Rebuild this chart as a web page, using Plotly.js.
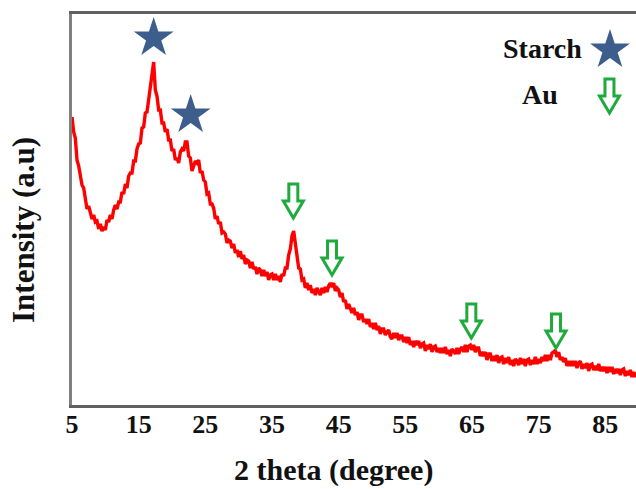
<!DOCTYPE html>
<html>
<head>
<meta charset="utf-8">
<script src="https://cdn.plot.ly/plotly-3.0.1.min.js"></script>
<style>
  html, body { margin: 0; padding: 0; background: #fff; }
  #chart { width: 636px; height: 489px; }
</style>
</head>
<body>
<div id="chart"></div>
<script>
// XRD scan of the starch-capped Au sample: 2θ from 5° in 0.25° steps
const scanStartDeg = 5;
const scanStepDeg = 0.25;

// Measured intensity (a.u.), one row per 5° of 2θ
const intensity = [
  // 5.00 - 9.75
  288,273,267,245,239,227,220,217,205,196,199,192,186,190,183,184,176,181,174,178,
  // 10.00 - 14.75
  175,185,183,190,186,195,200,196,203,203,213,211,221,217,229,232,232,244,244,256,
  // 15.00 - 19.75
  261,262,277,278,292,293,307,321,336,343,315,309,295,295,282,282,273,276,265,265,
  // 20.00 - 24.75
  254,256,245,247,242,253,256,254,263,263,249,247,234,238,244,242,245,232,234,225,
  // 25.00 - 29.75
  223,211,212,201,201,197,186,189,181,183,172,173,171,162,165,164,157,161,152,155,
  // 30.00 - 34.75
  148,154,146,150,141,145,144,137,143,136,138,131,137,135,129,135,129,133,125,130,
  // 35.00 - 39.75
  131,125,131,125,129,123,131,129,137,137,150,156,169,174,160,153,137,136,125,126,
  // 40.00 - 44.75
  117,122,115,120,112,116,110,117,114,110,117,112,118,113,119,122,118,122,114,117,
  // 45.00 - 49.75
  115,108,112,103,105,96,101,97,92,97,90,93,85,90,90,83,86,81,86,78,
  // 50.00 - 54.75
  82,76,82,75,79,71,76,76,70,73,75,68,66,72,67,72,65,69,69,63,
  // 55.00 - 59.75
  68,62,68,60,64,58,64,60,64,57,61,62,54,60,56,61,53,58,59,53,
  // 60.00 - 64.75
  57,52,57,52,58,51,55,49,56,54,51,57,51,56,58,53,60,53,59,60,
  // 65.00 - 69.75
  55,60,53,57,57,49,53,49,53,45,51,51,44,49,44,50,42,47,48,41,
  // 70.00 - 74.75
  47,42,48,40,45,39,46,44,40,47,41,46,39,45,46,40,45,41,48,41,
  // 75.00 - 79.75
  46,42,48,44,50,44,50,45,52,53,55,48,53,45,48,43,47,39,44,39,
  // 80.00 - 84.75
  44,39,44,37,42,44,36,41,37,42,34,40,41,35,39,35,41,34,38,34,
  // 85.00 - 89.75
  38,32,38,33,38,31,36,32,36,30,35,36,29,34,30,35,28,33,28,32
];
const twoTheta = intensity.map((_, i) => scanStartDeg + i * scanStepDeg);

// Axis ticks
const tickDeg = [5, 15, 25, 35, 45, 55, 65, 75, 85];
const tickText = ['5', '15', '25', '35', '45', '55', '65', '75', '85'];

// Starch reflections (star markers placed above each peak)
const starchPeakDeg = [17.25, 22.8];
const starchMarkY = [367, 290];

// Au reflections (down arrows, tip position above each peak)
const auPeakDeg = [38.2, 44.0, 64.9, 77.6];
const auArrowTipY = [187, 130, 67, 57];

// Key entries
const keyStarPos = { x: 85.7, y: 355 };
const keyArrowPos = { x: 85.62, y: 292 };

const serif = 'Liberation Serif, Times New Roman, serif';
const starBlue = '#3D5E8C';
const arrowGreen = '#1FAA3C';

// Hollow block arrow, tip at anchor, pointing down (pixels)
const arrowPath = 'M -4.5,34 L 4.5,34 L 4.5,17 L 10,17 L 0,0 L -10,17 L -4.5,17 Z';
function arrowShape(x, y) {
  return {
    type: 'path', xref: 'x', yref: 'y',
    xsizemode: 'pixel', ysizemode: 'pixel',
    xanchor: x, yanchor: y,
    path: arrowPath,
    line: { color: arrowGreen, width: 3 },
    fillcolor: '#ffffff',
    layer: 'above'
  };
}

const shapes = auPeakDeg.map((d, i) => arrowShape(d, auArrowTipY[i]));
shapes.push(arrowShape(keyArrowPos.x, keyArrowPos.y));

const traces = [
  {
    x: twoTheta, y: intensity,
    type: 'scatter', mode: 'lines',
    line: { color: '#FF0000', width: 3.4 },
    hoverinfo: 'skip'
  },
  {
    x: starchPeakDeg.concat([keyStarPos.x]),
    y: starchMarkY.concat([keyStarPos.y]),
    type: 'scatter', mode: 'markers',
    marker: { symbol: 'star', size: 30, color: starBlue, line: { width: 0 } },
    cliponaxis: false,
    hoverinfo: 'skip'
  }
];

const layout = {
  width: 636, height: 489,
  margin: { l: 72, r: 0, t: 14, b: 84 },
  paper_bgcolor: '#ffffff',
  plot_bgcolor: '#ffffff',
  showlegend: false,
  xaxis: {
    range: [5, 89.6],
    tickvals: tickDeg, ticktext: tickText,
    ticks: '', showgrid: false, zeroline: false,
    showline: true, mirror: true, linecolor: '#606060', linewidth: 3,
    ticklabelstandoff: -6,
    tickfont: { family: serif, size: 26, color: '#111111', weight: 'bold' }
  },
  yaxis: {
    range: [0, 391],
    showticklabels: false, ticks: '', showgrid: false, zeroline: false,
    showline: true, linecolor: '#808080', linewidth: 3
  },
  shapes: shapes,
  annotations: [
    {
      text: '2 theta (degree)', xref: 'paper', yref: 'paper',
      x: 0.4645, y: -0.166, xanchor: 'center', yanchor: 'middle', showarrow: false,
      font: { family: serif, size: 30, color: '#111111', weight: 'bold' }
    },
    {
      text: 'Intensity (a.u)', xref: 'paper', yref: 'paper', textangle: -90,
      x: -0.0851, y: 0.4476, xanchor: 'center', yanchor: 'middle', showarrow: false,
      font: { family: serif, size: 31, color: '#111111', weight: 'bold' }
    },
    {
      text: 'Starch', xref: 'paper', yref: 'paper',
      x: 0.835, y: 0.913, xanchor: 'center', yanchor: 'middle', showarrow: false,
      font: { family: serif, size: 28, color: '#111111', weight: 'bold' }
    },
    {
      text: 'Au', xref: 'paper', yref: 'paper',
      x: 0.830, y: 0.793, xanchor: 'center', yanchor: 'middle', showarrow: false,
      font: { family: serif, size: 28, color: '#111111', weight: 'bold' }
    }
  ]
};

Plotly.newPlot('chart', traces, layout, { staticPlot: true, displayModeBar: false });
</script>
</body>
</html>
